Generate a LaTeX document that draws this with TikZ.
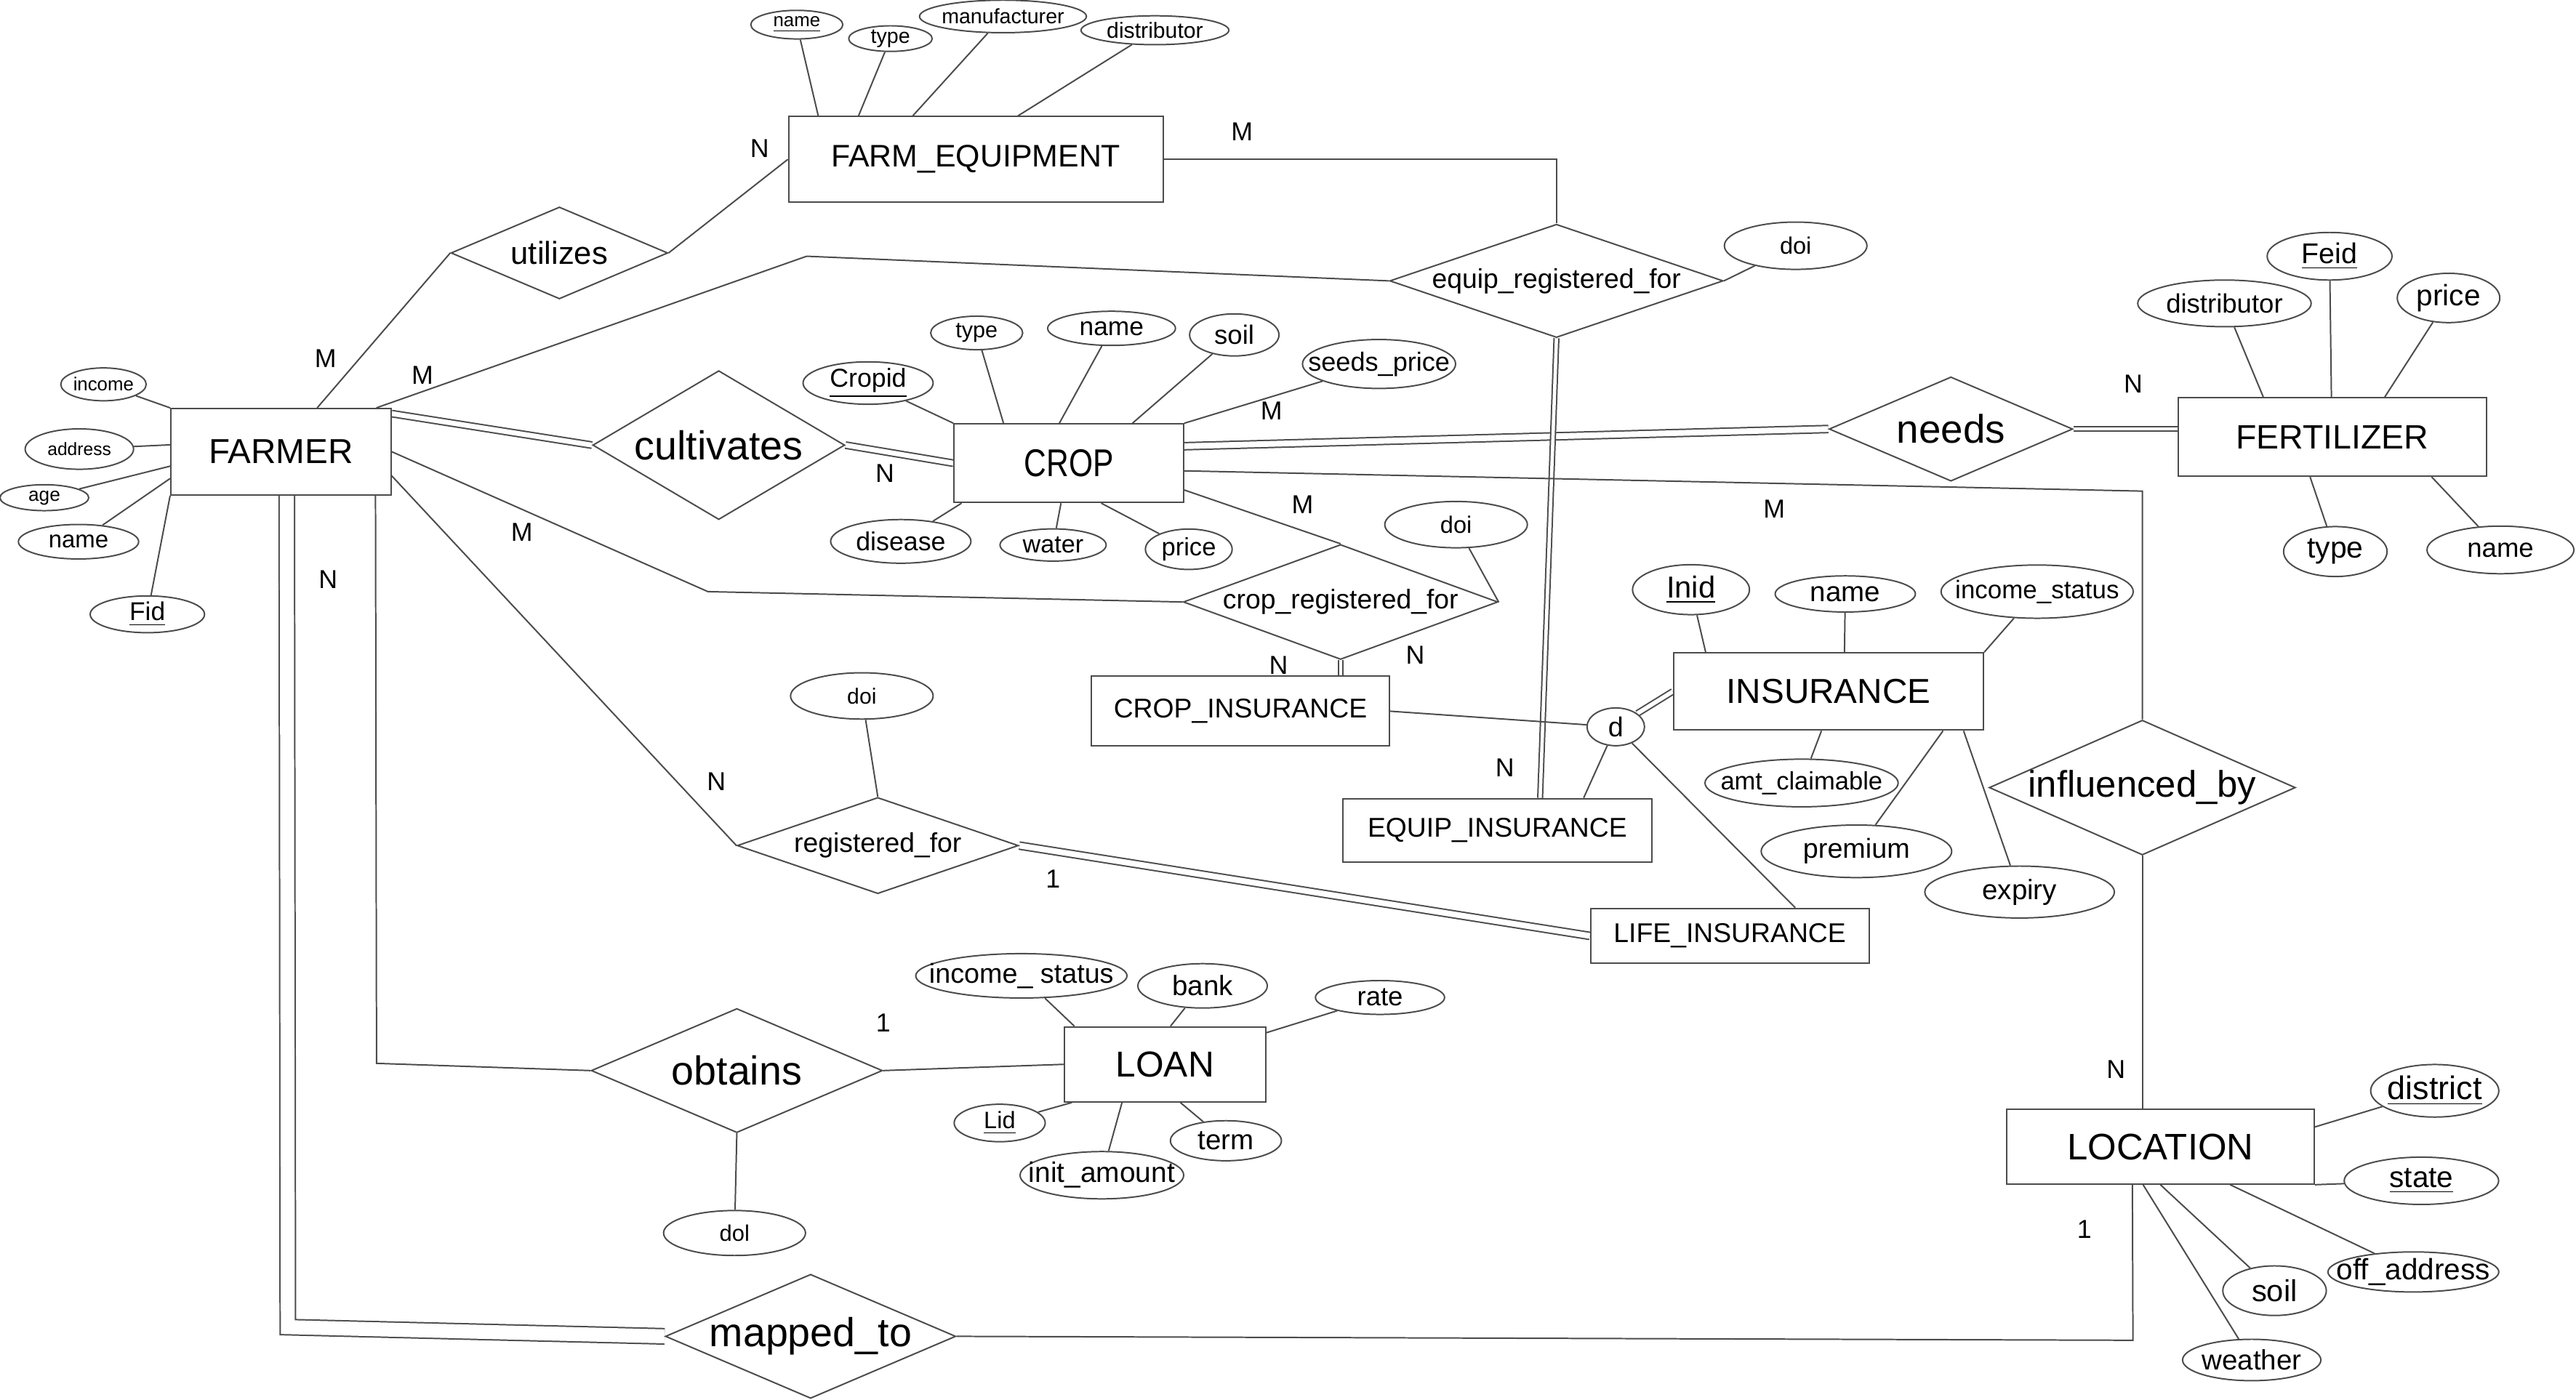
\documentclass[tikz,border=0pt]{standalone}
\usepackage{fontspec}
\setmainfont{Liberation Sans}
\newfontfamily\narrowfont[FakeStretch=0.8]{Liberation Sans}
\usetikzlibrary{shapes.geometric,backgrounds}
\tikzset{sz/.style 2 args={minimum width=#1*0.2mm,minimum height=#2*0.2mm},
  fs/.style={font=\fontsize{#1}{#1}\selectfont},
  entity/.style={draw=black!70,line width=0.5pt,rectangle,inner sep=0pt},
  rel/.style={draw=black!70,line width=0.5pt,diamond,inner sep=0pt},
  attr/.style={draw=black!70,line width=0.5pt,ellipse,inner sep=0pt},
  card/.style={inner sep=0pt,fs=9},
  conn/.style={draw=black!70,line width=0.5pt},
  dline/.style={conn,double=white,double distance=#1},
  dline/.default=0.6mm}
\newcommand{\att}[1]{\makebox[0pt]{#1}}
\newcommand{\pkey}[1]{\makebox[0pt]{\underline{#1}}}

\begin{document}
\begin{tikzpicture}[x=0.2mm,y=-0.2mm]
\useasboundingbox (0,0) rectangle (1568,852);
% entities
\node [entity,sz={228}{52},fs=10.8] (equip) at (594,97) {FARM\_EQUIPMENT};
\node [entity,sz={134}{52.5},fs=12] (farmer) at (171,275) {FARMER};
\node [entity,sz={139.7}{47.8},font=\narrowfont\fontsize{13.4}{13.4}\selectfont] (crop) at (650.6,282) {CROP};
\node [entity,sz={187.3}{47.8},fs=11.7] (fert) at (1419.7,266) {FERTILIZER};
\node [entity,sz={181.6}{42.5},fs=9.4] (cropins) at (755,433) {CROP\_INSURANCE};
\node [entity,sz={188.7}{47},fs=12] (ins) at (1113,421) {INSURANCE};
\node [entity,sz={188}{38.8},fs=9.4] (equipins) at (911.4,505.6) {EQUIP\_INSURANCE};
\node [entity,sz={169.5}{33.5},fs=9.4] (lifeins) at (1052.9,569.8) {LIFE\_INSURANCE};
\node [entity,sz={122.4}{45.6},fs=12.5] (loan) at (709.1,648) {LOAN};
\node [entity,sz={187.2}{45.3},fs=12.8] (loc) at (1315,698.2) {LOCATION};

% relationships
\node [rel,sz={132}{56},aspect=2.36,fs=11] (utilizes) at (340.5,154) {utilizes};
\node [rel,sz={203}{69},aspect=2.94,fs=9.4] (eqreg) at (947.4,171) {equip\_registered\_for};
\node [rel,sz={153.4}{90.7},aspect=1.69,fs=14] (cultivates) at (437.5,271) {cultivates};
\node [rel,sz={148.3}{63.5},aspect=2.34,fs=13.8] (needs) at (1187.5,261.2) {needs};
\node [rel,sz={191.5}{70},aspect=2.74,fs=9.4] (cropreg) at (816,366.5) {crop\_registered\_for};
\node [rel,sz={171.2}{58.6},aspect=2.92,fs=9.4] (regfor) at (534.3,514.8) {registered\_for};
\node [rel,sz={186.1}{82.1},aspect=2.27,fs=12.8] (influenced) at (1304,479.5) {influenced\_by};
\node [rel,sz={177.3}{75.6},aspect=2.35,fs=14] (obtains) at (448.5,651.8) {obtains};
\node [rel,sz={176.8}{75.6},aspect=2.34,fs=14] (mapped) at (493.4,813.6) {mapped\_to};
\node [attr,sz={35}{23},fs=9.5] (disj) at (983.5,442.5) {d};

% attributes
\node [attr,sz={56}{17.4},fs=6.5] (eqname) at (485,15) {\pkey{name}};
\node [attr,sz={50.8}{15.6},fs=7.2] (eqtype) at (542,23.5) {\att{type}};
\node [attr,sz={101.6}{19.8},fs=7.2] (eqmanu) at (610.5,10) {\att{manufacturer}};
\node [attr,sz={90}{17.6},fs=7.6] (eqdist) at (703,18.4) {\att{distributor}};
\node [attr,sz={86.8}{28.8},fs=8.2] (eqdoi) at (1093,149.6) {\att{doi}};

\node [attr,sz={52}{20},fs=6.5] (fincome) at (63,234) {\att{income}};
\node [attr,sz={66}{24.6},fs=6.2] (faddr) at (48.3,273.4) {\att{address}};
\node [attr,sz={54}{15.8},fs=6.6] (fage) at (27,303) {\att{age}};
\node [attr,sz={73.2}{21},fs=8.3] (fname) at (47.8,329.8) {\att{name}};
\node [attr,sz={69.6}{22.4},fs=8.9] (fid) at (89.7,374) {\pkey{Fid}};

\node [attr,sz={79.2}{24.4},fs=9] (cropid) at (528.4,233.2) {\pkey{Cropid}};
\node [attr,sz={56}{20.4},fs=7.7] (ctype) at (594.5,202.7) {\att{type}};
\node [attr,sz={77.8}{20.8},fs=8.9] (cname) at (676.6,199.9) {\att{name}};
\node [attr,sz={54.4}{25.6},fs=9.2] (csoil) at (751.3,203.9) {\att{soil}};
\node [attr,sz={93.2}{29.8},fs=9.1] (cseeds) at (839.4,221.6) {\att{seeds\_price}};
\node [attr,sz={85.4}{26.6},fs=9] (cdisease) at (548.3,329.6) {\att{disease}};
\node [attr,sz={64.6}{19.6},fs=8.6] (cwater) at (641,331.8) {\att{water}};
\node [attr,sz={52.8}{24.6},fs=8.7] (cprice) at (723.6,334.4) {\att{price}};
\node [attr,sz={86.8}{28.2},fs=8.2] (crdoi) at (886.3,319.4) {\att{doi}};

\node [attr,sz={76}{29},fs=9.9] (feid) at (1418,156) {\pkey{Feid}};
\node [attr,sz={105.6}{28.4},fs=9.2] (fdist) at (1354,184.7) {\att{distributor}};
\node [attr,sz={62.4}{30},fs=10.2] (fprice) at (1490.4,181.4) {\att{price}};
\node [attr,sz={63}{30.4},fs=10.3] (ftype) at (1421.5,335.8) {\att{type}};
\node [attr,sz={89.4}{29},fs=9.2] (fname2) at (1522,334.8) {\att{name}};

\node [attr,sz={71.2}{30.4},fs=10.5] (inid) at (1029.3,359) {\pkey{Inid}};
\node [attr,sz={85.4}{22},fs=9.7] (iname) at (1123.2,361.6) {\att{name}};
\node [attr,sz={117}{32.4},fs=8.8] (iincome) at (1240,360.2) {\att{income\_status}};
\node [attr,sz={117.6}{29},fs=8.7] (iamt) at (1096.6,476.7) {\att{amt\_claimable}};
\node [attr,sz={116}{32},fs=9.5] (iprem) at (1130,518.3) {\att{premium}};
\node [attr,sz={115.4}{31.6},fs=9.7] (iexp) at (1229.3,543.1) {\att{expiry}};

\node [attr,sz={86.8}{28.2},fs=7.6] (rdoi) at (524.6,423.7) {\att{doi}};
\node [attr,sz={86.4}{27.4},fs=7.8] (odol) at (447.1,750.7) {\att{dol}};

\node [attr,sz={128.6}{27},fs=9.5] (lincome) at (621.7,594.1) {\att{income\_ status}};
\node [attr,sz={78.8}{27},fs=9.7] (lbank) at (732,600.2) {\att{bank}};
\node [attr,sz={78.6}{20.6},fs=9.2] (lrate) at (840,607.3) {\att{rate}};
\node [attr,sz={55.4}{22.8},fs=8.2] (lid) at (608.5,683.7) {\pkey{Lid}};
\node [attr,sz={99.6}{28.8},fs=9.8] (linit) at (670.7,715.5) {\att{init\_amount}};
\node [attr,sz={67.6}{24.4},fs=9.7] (lterm) at (746.2,694.5) {\att{term}};

\node [attr,sz={78}{32},fs=11.3] (ldist) at (1482,664.1) {\pkey{district}};
\node [attr,sz={94}{28.8},fs=10.2] (lstate) at (1473.9,718.9) {\pkey{state}};
\node [attr,sz={104}{24.4},fs=10.2] (loff) at (1469,774.4) {\att{off\_address}};
\node [attr,sz={63}{30.2},fs=10.5] (lsoil) at (1384.5,785.8) {\att{soil}};
\node [attr,sz={84.2}{25.2},fs=9.7] (lweather) at (1370.6,828) {\att{weather}};

% cardinalities
\node [card] (cardEqN) at (462.4,90.2) {N};
\node [card] (cardEqM) at (756,80) {M};
\node [card] (cardUtM) at (198.2,218.4) {M};
\node [card] (cardErM) at (257.1,228.6) {M};
\node [card] (cardCuN) at (538.6,288.3) {N};
\node [card] (cardNeM) at (773.9,250.2) {M};
\node [card] (cardCrM) at (317.6,323.9) {M};
\node [card] (cardMaN) at (199.7,353) {N};
\node [card] (cardCcM) at (792.9,307.3) {M};
\node [card] (cardFeN) at (1298.5,233.7) {N};
\node [card] (cardInM) at (1080,310) {M};
\node [card] (cardCiN) at (778.3,405) {N};
\node [card] (cardCrN) at (861.5,399) {N};
\node [card] (cardEiN) at (916,467.4) {N};
\node [card] (cardRfN) at (436,475.8) {N};
\node [card] (cardLiO) at (641,535) {1};
\node [card] (cardLoO) at (537.6,622.8) {1};
\node [card] (cardLcN) at (1288,651.3) {N};
\node [card] (cardMpO) at (1268.7,748.5) {1};

% bends
\coordinate (eqbend) at (491,156);
\coordinate (infbend) at (1304,299);
\coordinate (crbend) at (430.9,360.2);
\coordinate (locbend) at (1298.3,816);
\coordinate (mapbend) at (175.2,808);
\coordinate (obbend) at (229.2,647.4);

\begin{scope}[on background layer]
% total participation
\draw [dline] ([yshift=-0.7mm]farmer.north east) -- (cultivates.west);
\draw [dline] (cultivates.east) -- (crop.west);
\draw [dline=0.7mm] ([yshift=-2.8mm]crop.north east) -- (needs.west);
\draw [dline=0.4mm] (needs.east) -- (needs.east -| fert.west);
\draw [dline=0.4mm] (eqreg.south) -- ([xshift=24.1mm]equipins.north west);
\draw [dline=0.4mm] (cropreg.south) -- (cropreg.south |- cropins.north);
\draw [dline=0.5mm] (disj) -- (ins.west);
\draw [dline=0.7mm] (regfor.east) -- (lifeins.west);
\draw [dline=1.7mm] ([xshift=14.2mm]farmer.south west) -- (mapbend) -- (mapped.west);

% relationship lines
\draw [conn] ([xshift=17.9mm]farmer.north west) -- (utilizes.west);
\draw [conn] (utilizes.east) -- (equip.west);
\draw [conn] (equip.east) -| (eqreg.north);
\draw [conn] ([xshift=25.1mm]farmer.north west) -- (eqbend) -- (eqreg.west);
\draw [conn] (eqdoi) -- (eqreg.east);
\draw [conn] ([yshift=-5.8mm]crop.north east) -- (infbend) -- (influenced.north);
\draw [conn] ([yshift=1.6mm]crop.south east) -- (cropreg.north);
\draw [conn] (crdoi) -- (cropreg.east);
\draw [conn] (farmer.east) -- (crbend) -- (cropreg.west);
\draw [conn] (cropins.east) -- (disj);
\draw [conn] (disj) -- ([xshift=29.4mm]equipins.north west);
\draw [conn] (disj) -- ([xshift=25mm]lifeins.north west);
\draw [conn] (influenced.south) -- (influenced.south |- loc.north);
\draw [conn] ([xshift=15.4mm]loc.south west) -- (locbend) -- (mapped.east);
\draw [conn] ([xshift=25mm]farmer.south west) -- (obbend) -- (obtains.west);
\draw [conn] (obtains.east) -- (loan.west);
\draw [conn] (odol) -- (obtains.south);
\draw [conn] ([yshift=2.4mm]farmer.south east) -- (regfor.west);
\draw [conn] (rdoi) -- (regfor.north);

% attribute lines
\draw [conn] (eqname) -- ([xshift=3.7mm]equip.north west);
\draw [conn] (eqtype) -- ([xshift=8.6mm]equip.north west);
\draw [conn] (eqmanu) -- ([xshift=15.2mm]equip.north west);
\draw [conn] (eqdist) -- ([xshift=28mm]equip.north west);
\draw [conn] (fincome) -- (farmer.north west);
\draw [conn] (faddr) -- ([yshift=-4.5mm]farmer.north west);
\draw [conn] (fage) -- ([yshift=-7.1mm]farmer.north west);
\draw [conn] (fname) -- ([yshift=-8.6mm]farmer.north west);
\draw [conn] (fid) -- (farmer.south west);
\draw [conn] (cropid) -- (crop.north west);
\draw [conn] (ctype) -- ([xshift=6.1mm]crop.north west);
\draw [conn] (cname) -- ([xshift=12.9mm]crop.north west);
\draw [conn] (csoil) -- ([xshift=21.8mm]crop.north west);
\draw [conn] (cseeds) -- (crop.north east);
\draw [conn] (cdisease) -- ([xshift=1mm]crop.south west);
\draw [conn] (cwater) -- ([xshift=13.1mm]crop.south west);
\draw [conn] (cprice) -- ([xshift=18mm]crop.south west);
\draw [conn] (fdist) -- ([xshift=10.4mm]fert.north west);
\draw [conn] (feid) -- ([xshift=18.7mm]fert.north west);
\draw [conn] (fprice) -- ([xshift=25.2mm]fert.north west);
\draw [conn] (ftype) -- ([xshift=16.1mm]fert.south west);
\draw [conn] (fname2) -- ([xshift=30.9mm]fert.south west);
\draw [conn] (inid) -- ([xshift=4mm]ins.north west);
\draw [conn] (iname) -- ([xshift=20.9mm]ins.north west);
\draw [conn] (iincome) -- (ins.north east);
\draw [conn] (iamt) -- ([xshift=18.1mm]ins.south west);
\draw [conn] (iprem) -- ([xshift=32.9mm]ins.south west);
\draw [conn] (iexp) -- ([xshift=35.4mm]ins.south west);
\draw [conn] (lincome) -- ([xshift=1.3mm]loan.north west);
\draw [conn] (lbank) -- ([xshift=13mm]loan.north west);
\draw [conn] (lrate) -- ([yshift=-0.8mm]loan.north east);
\draw [conn] (lid) -- ([xshift=1mm]loan.south west);
\draw [conn] (linit) -- ([xshift=7.1mm]loan.south west);
\draw [conn] (lterm) -- ([xshift=14.2mm]loan.south west);
\draw [conn] (ldist) -- ([yshift=-2.2mm]loc.north east);
\draw [conn] (lstate) -- (loc.south east);
\draw [conn] (loff) -- ([xshift=27.3mm]loc.south west);
\draw [conn] (lsoil) -- (loc.south);
\draw [conn] (lweather) -- ([xshift=16.7mm]loc.south west);
\end{scope}
\end{tikzpicture}
\end{document}
